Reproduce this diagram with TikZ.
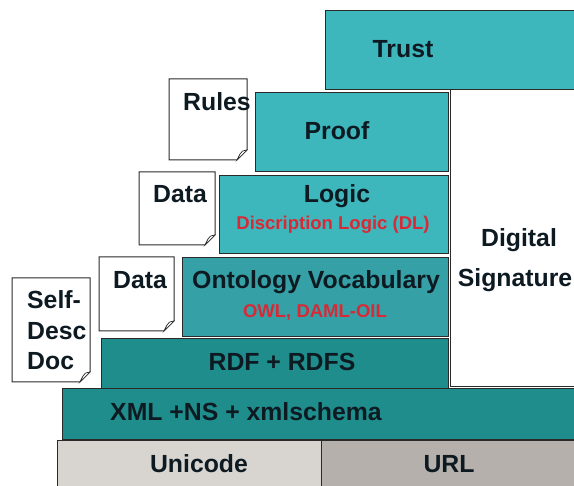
\documentclass[tikz,border=0pt]{standalone}
\usepackage{fontspec}
\setmainfont{Liberation Sans}
\definecolor{trustc}{HTML}{3DB6BC}
\definecolor{ontoc}{HTML}{35A0A6}
\definecolor{rdfc}{HTML}{1F8D8C}
\definecolor{unic}{HTML}{D8D4CF}
\definecolor{urlc}{HTML}{B5B0AB}
\definecolor{redt}{HTML}{D82A36}
\definecolor{inkc}{HTML}{0E1A22}
\definecolor{edgec}{HTML}{2A2A2A}
\tikzset{
  layer/.style={draw=edgec, line width=1pt},
  big/.style={font=\fontsize{24.8}{28}\selectfont\bfseries, text=inkc, inner sep=0pt, anchor=base},
  small/.style={font=\fontsize{18.5}{21}\selectfont\bfseries, text=redt, inner sep=0pt, anchor=base},
  docline/.style={draw=edgec, line width=1pt, fill=white, line join=miter},
  foldline/.style={draw=edgec, line width=0.7pt, fill=white}
}
\newcommand{\docshape}[5]{% name, x1, y1, x2, y2
  \draw[docline] (#2,#3) -- (#4,#3) -- (#4,#5-10) -- (#4-10,#5) -- (#2,#5) -- cycle;
  \draw[foldline] (#4,#5-10) .. controls (#4-5,#5-9) .. (#4-7,#5-6) -- (#4-10,#5) -- cycle;
  \coordinate (#1) at (#2,#3);
}
\begin{document}
\begin{tikzpicture}[x=1pt,y=-1pt]
\useasboundingbox (0,0) rectangle (574,486);
\clip (0,0) rectangle (574,486);
% layers
\draw[layer, fill=trustc] (325,11) rectangle (590,90);
\coordinate (trustbox) at (325,11);
\draw[layer, fill=white] (450,90) rectangle (590,387);
\coordinate (dsbox) at (450,90);
\draw[layer, fill=trustc] (255,93) rectangle (448,172);
\coordinate (proofbox) at (255,93);
\draw[layer, fill=trustc] (219,176) rectangle (448,254);
\coordinate (logicbox) at (219,176);
\draw[layer, fill=ontoc] (182,258) rectangle (448,337);
\coordinate (ontobox) at (182,258);
\draw[layer, fill=rdfc] (101,339) rectangle (448,389);
\coordinate (rdfbox) at (101,339);
\draw[layer, fill=rdfc] (62,389) rectangle (590,440);
\coordinate (xmlbox) at (62,389);
\draw[layer, fill=unic] (57,441) rectangle (321,495);
\coordinate (unibox) at (57,441);
\draw[layer, fill=urlc] (321,441) rectangle (590,495);
\coordinate (urlbox) at (321,441);
% documents
\docshape{rulesdoc}{169}{79}{247}{160}
\docshape{dataA}{139}{172}{215}{245}
\docshape{dataB}{99}{257}{174}{331}
\docshape{selfdoc}{12}{278}{90}{382}
% labels
\node[big] (trust) at (403,58) {Trust};
\node[big] (proof) at (337,140) {Proof};
\node[big] (logic) at (337,203) {Logic};
\node[small] (dl) at (333,230) {Discription Logic (DL)};
\node[big] (onto) at (316,289) {Ontology Vocabulary};
\node[small] (owl) at (315,318) {OWL, DAML-OIL};
\node[big] (rdf) at (282,371) {RDF + RDFS};
\node[big] (xml) at (246,421) {XML +NS + xmlschema};
\node[big] (uni) at (199,473) {Unicode};
\node[big] (url) at (449,473) {URL};
\node[big] (dig) at (519,247) {Digital};
\node[big] (sig) at (515,287) {Signature};
\node[big] (rules) at (217,111) {Rules};
\node[big] (data1) at (180,203) {Data};
\node[big] (data2) at (140,289) {Data};
\node[big, anchor=base west] (selfA) at (27,309) {Self-};
\node[big, anchor=base west] (selfB) at (27,340) {Desc};
\node[big, anchor=base west] (selfC) at (27,370) {Doc};
\end{tikzpicture}
\end{document}
